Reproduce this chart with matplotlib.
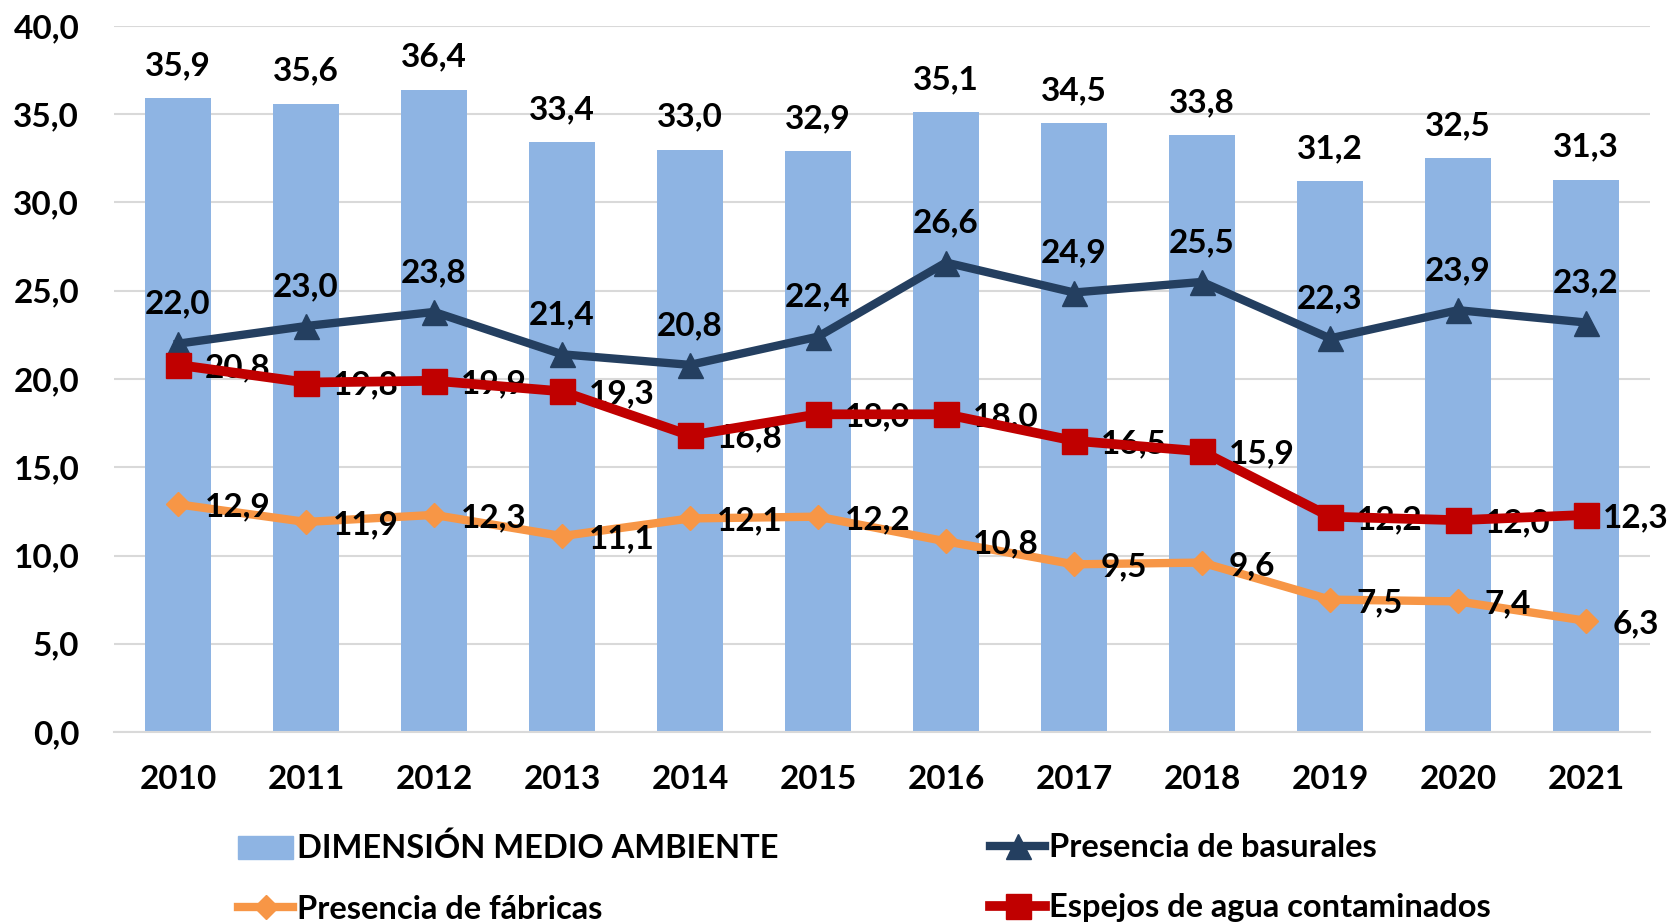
import numpy as np
import matplotlib.pyplot as plt
from matplotlib.patches import Patch
from matplotlib.lines import Line2D

plt.rcParams['font.family'] = ['Lato', 'DejaVu Sans']
plt.rcParams['font.weight'] = 'bold'

years = ["2010", "2011", "2012", "2013", "2014", "2015",
         "2016", "2017", "2018", "2019", "2020", "2021"]
dimension = [35.9, 35.6, 36.4, 33.4, 33.0, 32.9, 35.1, 34.5, 33.8, 31.2, 32.5, 31.3]
basurales = [22.0, 23.0, 23.8, 21.4, 20.8, 22.4, 26.6, 24.9, 25.5, 22.3, 23.9, 23.2]
espejos = [20.8, 19.8, 19.9, 19.3, 16.8, 18.0, 18.0, 16.5, 15.9, 12.2, 12.0, 12.3]
fabricas = [12.9, 11.9, 12.3, 11.1, 12.1, 12.2, 10.8, 9.5, 9.6, 7.5, 7.4, 6.3]

names = ["DIMENSIÓN MEDIO AMBIENTE", "Presencia de basurales",
         "Presencia de fábricas", "Espejos de agua contaminados"]

c_bar = "#8EB4E3"
c_bas = "#243F60"
c_esp = "#C00000"
c_fab = "#F79646"

def fmt(v):
    return f"{v:.1f}".replace(".", ",")

FS = 24

fig = plt.figure(figsize=(16.74, 9.23), dpi=100)
ax = fig.add_axes([114 / 1674, 1 - 732 / 923, 1536 / 1674, 706 / 923])
x = np.arange(len(years))

ax.bar(x, dimension, width=0.52, color=c_bar, zorder=2)
ax.plot(x, basurales, color=c_bas, lw=6, marker="^", ms=18, zorder=3)
ax.plot(x, espejos, color=c_esp, lw=7, marker="s", ms=18, zorder=4)
ax.plot(x, fabricas, color=c_fab, lw=6, marker="D", ms=12, zorder=3)

for xi, v in zip(x, dimension):
    ax.annotate(fmt(v), (xi, v), xytext=(0, 13), textcoords="offset points",
                ha="center", va="bottom", fontsize=FS, fontweight="bold")
for xi, v in zip(x, basurales):
    ax.annotate(fmt(v), (xi, v), xytext=(0, 18), textcoords="offset points",
                ha="center", va="bottom", fontsize=FS, fontweight="bold")
for xi, v in zip(x, espejos):
    # the last label is pulled in so it stays inside the figure
    dx = 12 if xi == x[-1] else 19
    ax.annotate(fmt(v), (xi, v), xytext=(dx, -2), textcoords="offset points",
                ha="left", va="center", fontsize=FS, fontweight="bold")
for xi, v in zip(x, fabricas):
    ax.annotate(fmt(v), (xi, v), xytext=(19, -2), textcoords="offset points",
                ha="left", va="center", fontsize=FS, fontweight="bold")

ax.set_xlim(-0.5, len(years) - 0.5)
ax.set_ylim(0, 40)
ax.set_yticks(np.arange(0, 45, 5))
ax.set_yticklabels([fmt(v) for v in np.arange(0, 45, 5)])
ax.set_xticks(x)
ax.set_xticklabels(years)
ax.tick_params(axis="both", length=0, labelsize=FS)
ax.tick_params(axis="y", pad=25)
ax.tick_params(axis="x", pad=24)
ax.grid(axis="y", color="#D9D9D9", lw=1.5, zorder=0)
ax.set_axisbelow(True)
for s in ["top", "right", "left"]:
    ax.spines[s].set_visible(False)
ax.spines["bottom"].set_color("#D9D9D9")
ax.spines["bottom"].set_linewidth(1.5)

h_bar = Patch(color=c_bar)
h_bas = Line2D([], [], color=c_bas, lw=6, marker="^", ms=18)
h_esp = Line2D([], [], color=c_esp, lw=7, marker="s", ms=18)
h_fab = Line2D([], [], color=c_fab, lw=6, marker="D", ms=12)

leg_kw = dict(frameon=False, fontsize=23.5, handlelength=1.7, handletextpad=0.1,
              labelspacing=0.95, loc="upper left", borderaxespad=0, borderpad=0)
leg1 = fig.legend([h_bar, h_fab], [names[0], names[2]],
                  bbox_to_anchor=(238 / 1674, 1 - 833 / 923), **leg_kw)
leg2 = fig.legend([h_bas, h_esp], [names[1], names[3]],
                  bbox_to_anchor=(990 / 1674, 1 - 833 / 923), **leg_kw)

fig.savefig("out.png", dpi=100)
